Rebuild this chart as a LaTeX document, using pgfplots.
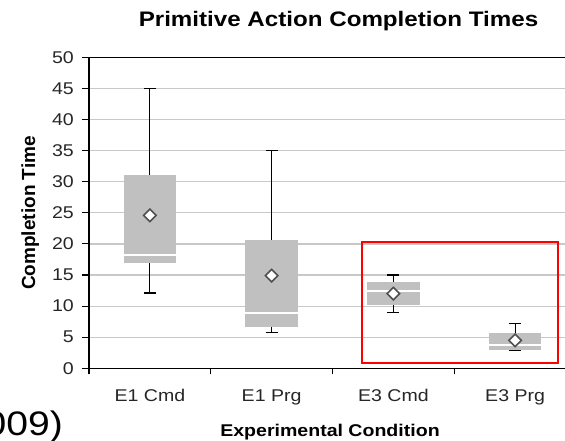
\documentclass[border=0pt]{standalone}
\usepackage{graphicx}
\usepackage{fontspec}
\setmainfont{Liberation Sans}
\usepackage{pgfplots}
\pgfplotsset{compat=1.18}
\usepgfplotslibrary{statistics}
\newcommand\wide[1]{\scalebox{1.15}[1]{#1}}
\definecolor{boxgray}{HTML}{C0C0C0}
\definecolor{gridgray}{HTML}{C8C8C8}
\definecolor{diagray}{HTML}{505050}
\begin{document}
\begin{tikzpicture}
\useasboundingbox (0pt,0pt) rectangle (565pt,440pt);
\clip (0pt,0pt) rectangle (565pt,440pt);
\begin{axis}[
  at={(89pt,71.7pt)}, anchor=south west,
  scale only axis, width=487pt, height=311pt,
  xmin=0, xmax=4, ymin=0, ymax=50,
  axis line style={black, line width=1.3pt},
  tick align=outside,
  xtick pos=bottom, ytick pos=left,
  xtick={0.5,1.5,2.5,3.5},
  xticklabels={\wide{E1 Cmd},\wide{E1 Prg},\wide{E3 Cmd},\wide{E3 Prg}},
  major x tick style={draw=none},
  minor xtick={0,1,2,3,4},
  minor tick length=6pt,
  minor x tick style={black, line width=1.1pt},
  ytick={0,5,...,50},
  yticklabels={\wide{0},\wide{5},\wide{10},\wide{15},\wide{20},\wide{25},\wide{30},\wide{35},\wide{40},\wide{45},\wide{50}},
  major tick length=7pt,
  major y tick style={black, line width=1.1pt},
  ymajorgrids,
  grid style={gridgray, line width=1.2pt},
  tick label style={font=\fontsize{17}{20}\selectfont, text=black!85},
  yticklabel style={inner sep=0pt, xshift=-8pt},
  xticklabel style={inner sep=0pt, yshift=-14pt},
  boxplot/draw direction=y,
  boxplot/every box/.style={draw=none, fill=boxgray},
  boxplot/every whisker/.style={black, line width=1.1pt},
  boxplot/every median/.style={white, line width=2pt},
  boxplot/box extend=0.43,
  boxplot/whisker extend=0.1,
]
\addplot[boxplot prepared={draw position=0.5, lower whisker=12.1, lower quartile=17.0, median=18.2, upper quartile=31.0, upper whisker=45}] coordinates {};
\addplot[boxplot prepared={draw position=1.5, lower whisker=5.8, lower quartile=6.6, median=8.9, upper quartile=20.6, upper whisker=35}] coordinates {};
\addplot[boxplot prepared={draw position=2.5, lower whisker=8.9, lower quartile=10.1, median=12.5, upper quartile=13.8, upper whisker=15}] coordinates {};
\addplot[boxplot prepared={draw position=3.5, lower whisker=2.8, lower quartile=2.9, median=3.8, upper quartile=5.7, upper whisker=7.2}] coordinates {};
\addplot[only marks, mark=square*, mark size=4.4pt,
  mark options={rotate=45, fill=white, draw=diagray, line width=1.6pt}]
  coordinates {(0.5,24.6) (1.5,14.9) (2.5,12.0) (3.5,4.5)};
\draw[red, line width=1.5pt] (axis cs:2.242,20.3) rectangle (axis cs:3.852,0.85);
\end{axis}
\node[anchor=base, inner sep=0pt, font=\bfseries\fontsize{21}{24}\selectfont] at (338.5pt,413pt) {\wide{Primitive Action Completion Times}};
\node[anchor=base, inner sep=0pt, font=\bfseries\fontsize{17}{20}\selectfont] at (330pt,3.5pt) {\wide{Experimental Condition}};
\node[anchor=base, inner sep=0pt, rotate=90, font=\bfseries\fontsize{19}{22}\selectfont] at (35pt,227pt) {Completion Time};
\node[anchor=base east, inner sep=0pt, font=\fontsize{34}{38}\selectfont] at (63pt,5pt) {\wide{009)}};
\end{tikzpicture}
\end{document}
